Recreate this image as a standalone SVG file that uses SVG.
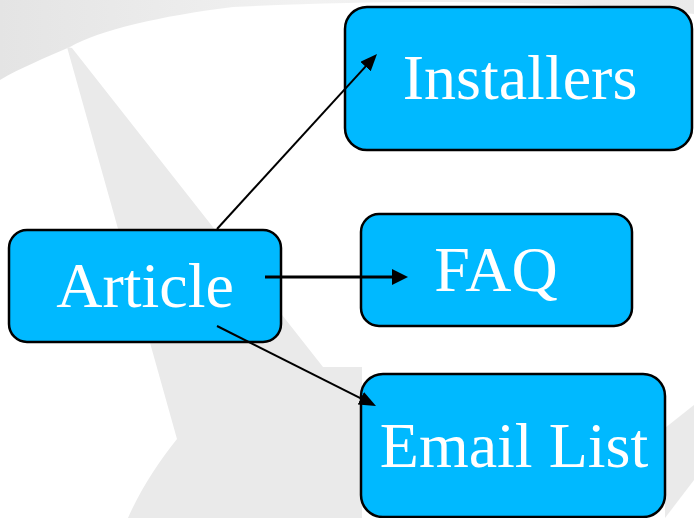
<svg xmlns="http://www.w3.org/2000/svg" width="694" height="518" viewBox="0 0 694 518">
<defs>
<linearGradient id="bandGrad" x1="0" y1="0" x2="1" y2="0">
<stop offset="0" stop-color="#e4e4e4"/>
<stop offset="0.45" stop-color="#f2f2f2"/>
<stop offset="1" stop-color="#eaeaea"/>
</linearGradient>
<marker id="arrowThin" markerUnits="userSpaceOnUse" markerWidth="18" markerHeight="16" refX="5" refY="7" orient="auto">
<path d="M0,0 L17,7 L0,14 Z" fill="#000"/>
</marker>
<marker id="arrowThick" markerUnits="userSpaceOnUse" markerWidth="18" markerHeight="18" refX="5" refY="8" orient="auto">
<path d="M0,0 L16,8 L0,16 Z" fill="#000"/>
</marker>
</defs>
<style>
.box{fill:#00b9ff;stroke:#000;stroke-width:2.5}
.lbl{font-family:"Liberation Serif","Times New Roman",serif;font-size:64px;fill:#fff;text-anchor:middle}
.conn{stroke:#000;fill:none}
.bg{fill:#eaeaea}
</style>
<rect width="694" height="518" fill="#fff"/>
<g id="background">
<path d="M0,0 H694 V14 C600,2 420,-2 233,7 C160,16 100,30 70,47 C45,58 20,68 0,80 Z" fill="url(#bandGrad)"/>
<path class="bg" d="M67,47 L72,48 L323,367 L362,367 L362,518 L128,518 C140,490 160,460 177,439 Z"/>
<path class="bg" d="M665,428 L694,405 L694,480 L665,518 Z"/>
</g>
<g id="node-installers">
<rect class="box" x="345" y="7" width="347" height="143" rx="22"/>
<text class="lbl" x="520" y="99">Installers</text>
</g>
<g id="node-faq">
<rect class="box" x="361" y="214" width="271" height="112" rx="18"/>
<text class="lbl" x="496" y="291">FAQ</text>
</g>
<g id="node-article">
<rect class="box" x="9" y="230" width="272" height="112" rx="18"/>
<text class="lbl" x="145" y="307">Article</text>
</g>
<g id="node-email">
<rect class="box" x="361" y="374" width="304" height="143" rx="22"/>
<text class="lbl" x="514" y="467">Email List</text>
</g>
<g id="connectors">
<line class="conn" stroke-width="2" x1="217" y1="229" x2="368.9" y2="62.9" marker-end="url(#arrowThin)"/>
<line class="conn" stroke-width="3.2" x1="265" y1="277" x2="397" y2="277" marker-end="url(#arrowThick)"/>
<line class="conn" stroke-width="2" x1="217" y1="326" x2="365.3" y2="400.6" marker-end="url(#arrowThin)"/>
</g>
</svg>
